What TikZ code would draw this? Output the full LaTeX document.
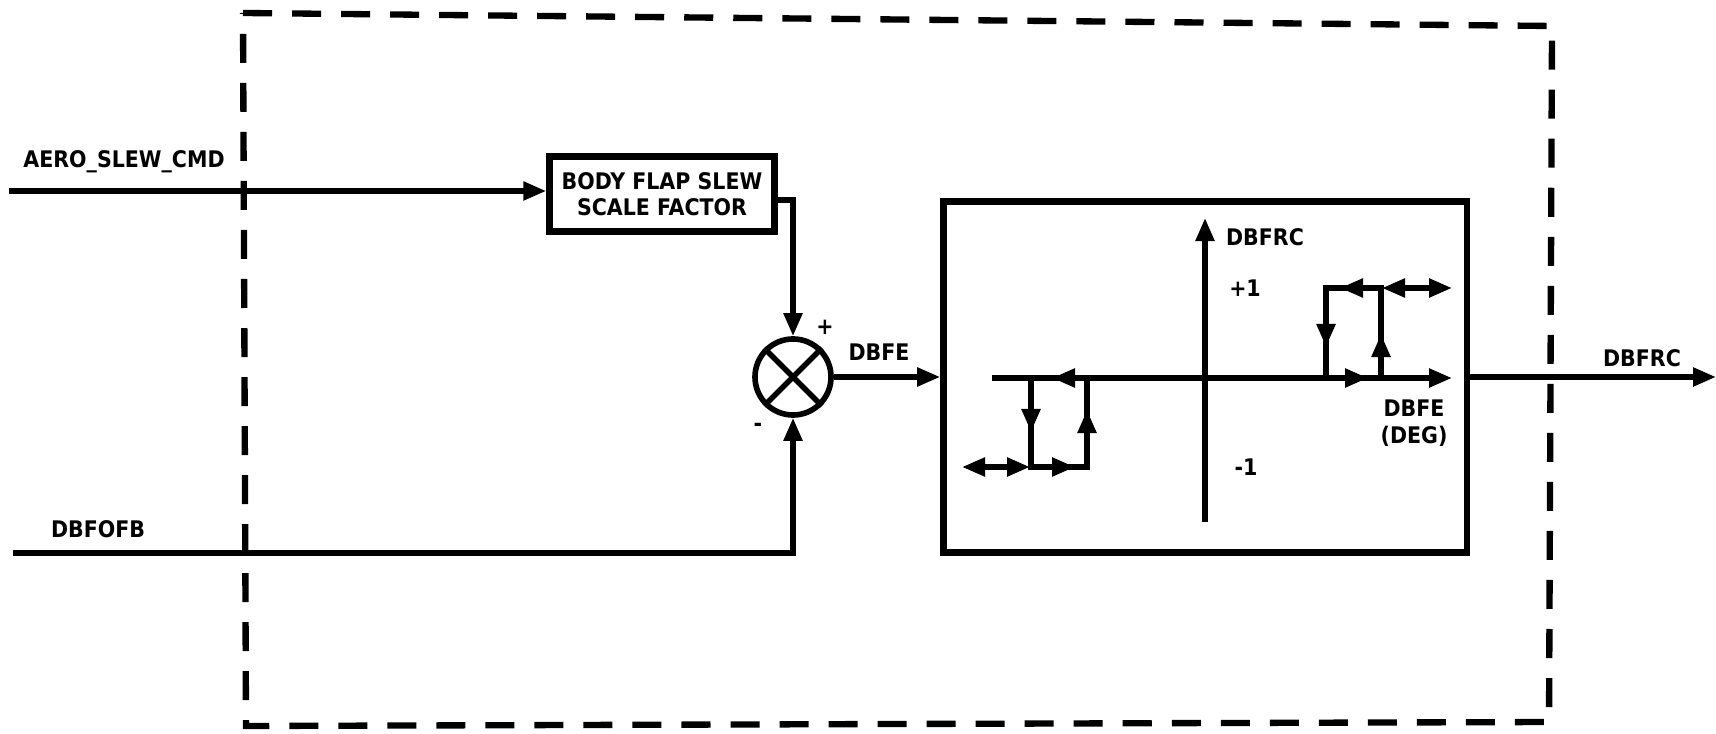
\documentclass[tikz,border=0pt]{standalone}
\usepackage{fontspec}
\setsansfont{DejaVu Sans Condensed}
\usetikzlibrary{arrows.meta, positioning, calc}

\tikzset{
  sig/.style={line width=1.5pt, -{Triangle[length=2.3mm, width=1.8mm]}},
  tip/.style={line width=1.5pt, -{Triangle[length=2.3mm, width=1.8mm]}},
  both/.style={line width=1.5pt, {Triangle[length=2.3mm, width=1.8mm]}-{Triangle[length=2.3mm, width=1.8mm]}},
  plain/.style={line width=1.5pt},
  blockbox/.style={draw, line width=1.8pt, inner sep=0pt, align=center},
  lbl/.style={inner sep=1pt}
}

\begin{document}
\begin{tikzpicture}[x=0.01cm, y=-0.01cm, font=\sffamily\bfseries\fontsize{6.5}{7.5}\selectfont]
  \useasboundingbox (0,0) rectangle (1716,734);

  % Dashed module boundary
  \draw[line width=1.8pt, dash pattern=on 0.29cm off 0.2cm] (243,13) -- (1552,26) -- (1549,722) -- (246,726) -- cycle;

  % Blocks
  \node[blockbox, minimum width=2.25cm, minimum height=0.75cm] (sf) at (662,194) {BODY FLAP SLEW\\SCALE FACTOR};
  \node[draw, circle, line width=1.6pt, minimum size=0.76cm, inner sep=0pt] (sum) at (793,377) {};
  \draw[line width=1.6pt] (sum.north west) -- (sum.south east) (sum.north east) -- (sum.south west);
  \node[blockbox, minimum width=5.23cm, minimum height=3.51cm] (lim) at (1205,377) {};

  % Inputs and output
  \coordinate (in1) at (9,191);
  \coordinate (in2) at (13,553);
  \coordinate (out) at (1716,377);
  \draw[sig] (in1) -- (in1 -| sf.west);
  \draw[sig] ($(sf.east)+(0,6)$) -| (sum.north);
  \draw[sig] (in2) -| (sum.south);
  \draw[sig] (sum.east) -- (lim.west);
  \draw[sig] (lim.east) -- (out);

  % Signal labels
  \node[lbl] (laero) at (124,162) {AERO\_SLEW\_CMD};
  \node[lbl] (lofb) at (98,529) {DBFOFB};
  \node[lbl] (lplus) at (825,327) {+};
  \node[lbl] (lminus) at (758,427) {-};
  \node[lbl] (ldbfe) at (879,352) {DBFE};
  \node[lbl] (lout) at (1642,358) {DBFRC};

  % Hysteresis characteristic
  \draw[tip] (1205,522) -- (1205,218);
  \draw[plain] (992,378) -- (1430,378);
  \draw[tip] (1400,378) -- (1452,378);
  \node[lbl] (ly) at (1265,237) {DBFRC};
  \node[lbl] (lp1) at (1245,288) {+1};
  \node[lbl] (lm1) at (1246,467) {-1};
  \node[lbl, align=center] (lx) at (1414,423) {DBFE\\(DEG)};
  % upper branch
  \draw[plain] (1326,378) -- (1326,288) -- (1381,288) -- (1381,378);
  \draw[tip] (1326,300) -- (1326,347);
  \draw[tip] (1381,372) -- (1381,334);
  \draw[tip] (1375,288) -- (1340,288);
  \draw[tip] (1335,378) -- (1368,378);
  \draw[both] (1382,288) -- (1452,288);
  % lower branch
  \draw[plain] (1031,378) -- (1031,467) -- (1087,467) -- (1087,378);
  \draw[tip] (1031,385) -- (1031,432);
  \draw[tip] (1087,460) -- (1087,410);
  \draw[tip] (1080,378) -- (1052,378);
  \draw[tip] (1040,467) -- (1075,467);
  \draw[both] (962,467) -- (1030,467);
\end{tikzpicture}
\end{document}
